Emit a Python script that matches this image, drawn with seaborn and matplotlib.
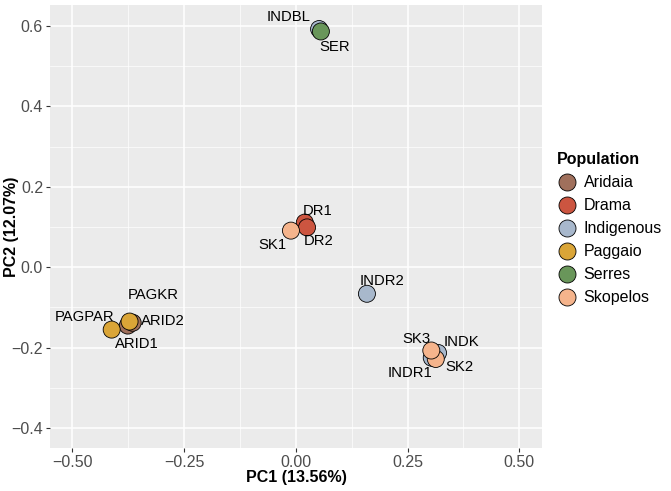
import matplotlib
matplotlib.use("Agg")
import numpy as np
import pandas as pd
import seaborn as sns
from matplotlib import pyplot as plt
from matplotlib.ticker import MultipleLocator

# sample data
samples = ["ARID1", "ARID2", "DR1", "DR2", "INDBL", "INDK", "INDR1", "INDR2",
           "PAGKR", "PAGPAR", "SER", "SK1", "SK2", "SK3"]
population = ["Aridaia", "Aridaia", "Drama", "Drama", "Indigenous", "Indigenous",
              "Indigenous", "Indigenous", "Paggaio", "Paggaio", "Serres",
              "Skopelos", "Skopelos", "Skopelos"]
pc1 = [-0.376, -0.365, 0.020, 0.025, 0.052, 0.318, 0.304, 0.159,
       -0.372, -0.412, 0.056, -0.011, 0.313, 0.303]
pc2 = [-0.145, -0.138, 0.111, 0.099, 0.592, -0.213, -0.225, -0.066,
       -0.135, -0.155, 0.586, 0.091, -0.228, -0.207]

pop_order = ["Aridaia", "Drama", "Indigenous", "Paggaio", "Serres", "Skopelos"]
pop_colors = ["#A0705C", "#CC5540", "#A8B8CC", "#DAA537", "#69965A", "#F5B48C"]

# label offsets in points (repel-like placement)
label_off = {
    "INDBL": (-22, 8.6), "SER": (10, -11), "DR1": (9.4, 8.6), "DR2": (8, -10),
    "SK1": (-13, -10), "INDR2": (11, 9.4), "PAGKR": (17, 19), "PAGPAR": (-19.5, 9.4),
    "ARID2": (21.6, 1.4), "ARID1": (6.5, -13), "SK3": (-11, 8), "INDK": (17, 8),
    "SK2": (17, -6), "INDR1": (-16, -11),
}

df = pd.DataFrame({"sample": samples, "Population": population, "PC1": pc1, "PC2": pc2})
df["Population"] = pd.Categorical(df["Population"], pop_order)
df = df.sort_values("Population", kind="stable")

plt.rcParams["font.family"] = ["Liberation Sans", "DejaVu Sans"]
fig = plt.figure(figsize=(6.71, 4.91), dpi=100)
ax = fig.add_axes([0.0745, 0.087, 0.7335, 0.903])
ax.set_facecolor("#EBEBEB")

sns.scatterplot(data=df, x="PC1", y="PC2", hue="Population", hue_order=pop_order,
                palette=dict(zip(pop_order, pop_colors)), s=150,
                edgecolor="black", linewidth=0.6, ax=ax, zorder=3)

for _, r in df.iterrows():
    dx, dy = label_off[r["sample"]]
    ax.annotate(r["sample"], (r["PC1"], r["PC2"]), xytext=(dx, dy),
                textcoords="offset points", ha="center", va="center",
                fontsize=10.7, color="black", zorder=4)

ax.set_xlim(-0.55, 0.551)
ax.set_ylim(-0.45, 0.652)
ax.xaxis.set_major_locator(MultipleLocator(0.25))
ax.xaxis.set_minor_locator(MultipleLocator(0.125))
ax.yaxis.set_major_locator(MultipleLocator(0.2))
ax.yaxis.set_minor_locator(MultipleLocator(0.1))
ax.xaxis.set_major_formatter(lambda v, p: f"{v:.2f}".replace("-", "\u2212"))
ax.yaxis.set_major_formatter(lambda v, p: f"{v:.1f}".replace("-", "\u2212"))
ax.grid(which="major", color="white", linewidth=1.1)
ax.grid(which="minor", color="white", linewidth=0.5)
ax.set_axisbelow(True)
for sp in ax.spines.values():
    sp.set_visible(False)
ax.tick_params(which="major", length=3, color="#333333", labelcolor="#4D4D4D",
               labelsize=11.5, pad=2)
ax.tick_params(which="minor", length=0)
ax.set_xlabel("PC1 (13.56%)", fontsize=11.5, fontweight="bold")
ax.set_ylabel("PC2 (12.07%)", fontsize=11.5, fontweight="bold")
ax.xaxis.set_label_coords(0.5, -0.049)
ax.yaxis.set_label_coords(-0.063, 0.5)

leg = ax.legend(title="Population", loc="upper left", bbox_to_anchor=(1.008, 0.693),
                frameon=False, fontsize=11.5, title_fontsize=11.5,
                handlelength=1.2, handletextpad=0.45, labelspacing=0.5,
                markerscale=1.0, borderaxespad=0.3)
leg.get_title().set_fontweight("bold")
leg._legend_box.align = "left"
for h in leg.legend_handles:
    h.set_markeredgecolor("black")
    h.set_markeredgewidth(0.6)

fig.savefig("out.png", dpi=100)
